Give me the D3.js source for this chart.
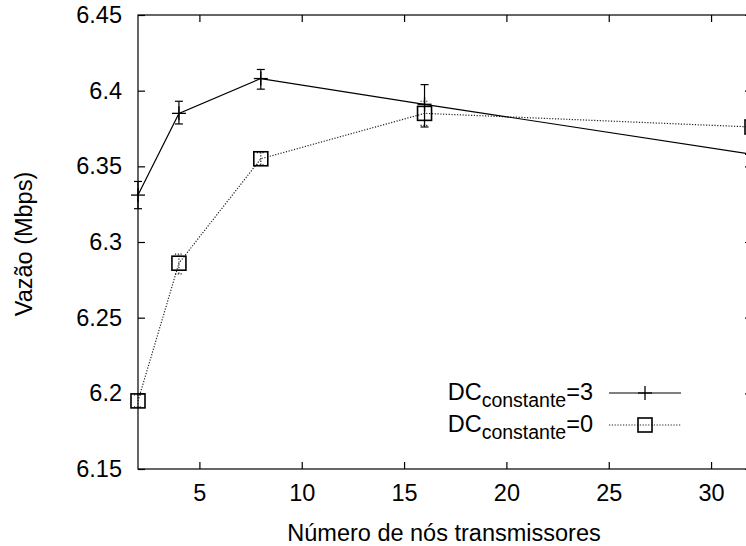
<!DOCTYPE html>
<html>
<head>
<meta charset="utf-8">
<script src="https://cdn.jsdelivr.net/npm/d3@7"></script>
<style>
html,body{margin:0;padding:0;background:#fff;}
svg{display:block;font-family:"Liberation Sans",Arial,Helvetica,sans-serif;}
</style>
</head>
<body>
<svg id="chart" width="746" height="546"></svg>
<script>
// ---- data ----
const xValues = [2, 4, 8, 16, 32];
const dc3Values = [6.331, 6.385, 6.408, 6.391, 6.358];
const dc3Low    = [6.322, 6.378, 6.401, 6.376, 6.353];
const dc3High   = [6.340, 6.393, 6.414, 6.404, 6.363];
const dc0Values = [6.195, 6.286, 6.355, 6.385, 6.376];
const dc0Low    = [6.191, 6.279, 6.351, 6.377, 6.372];
const dc0High   = [6.199, 6.292, 6.359, 6.393, 6.380];
const xTicks = [5, 10, 15, 20, 25, 30];
const yTicks = [6.15, 6.2, 6.25, 6.3, 6.35, 6.4, 6.45];
const seriesNames = ["3", "0"];
const xTitle = "Número de nós transmissores";
const yTitle = "Vazão (Mbps)";

const svg = d3.select("#chart");
const pL = 138, pR = 752, pT = 15, pB = 469;
const x = d3.scaleLinear().domain([2, 32]).range([pL, pR]);
const y = d3.scaleLinear().domain([6.15, 6.45]).range([pB, pT]);
const FS = 23.5;
const tickLen = 7;

// frame
svg.append("rect").attr("x", pL).attr("y", pT)
  .attr("width", pR - pL).attr("height", pB - pT)
  .attr("fill", "none").attr("stroke", "#000").attr("stroke-width", 1.2);

// axes with inward ticks
const gxB = svg.append("g").attr("transform", `translate(0,${pB})`)
  .call(d3.axisBottom(x).tickValues(xTicks).tickSizeInner(-tickLen).tickSizeOuter(0).tickPadding(15).tickFormat(d3.format("d")));
const gxT = svg.append("g").attr("transform", `translate(0,${pT})`)
  .call(d3.axisTop(x).tickValues(xTicks).tickSizeInner(-tickLen).tickSizeOuter(0).tickFormat(""));
const gyL = svg.append("g").attr("transform", `translate(${pL},0)`)
  .call(d3.axisLeft(y).tickValues(yTicks).tickSizeInner(-tickLen).tickSizeOuter(0).tickPadding(16).tickFormat(d => String(+d.toFixed(2))));
const gyR = svg.append("g").attr("transform", `translate(${pR},0)`)
  .call(d3.axisRight(y).tickValues(yTicks).tickSizeInner(-tickLen).tickSizeOuter(0).tickFormat(""));
[gxB, gxT, gyL, gyR].forEach(g => {
  g.select(".domain").remove();
  g.selectAll(".tick line").attr("stroke", "#000").attr("stroke-width", 1.2);
  g.selectAll("text").attr("font-size", FS).attr("font-family", "Liberation Sans, Arial, sans-serif").attr("fill", "#000");
});

// axis titles
svg.append("text").attr("x", 444).attr("y", 541)
  .attr("text-anchor", "middle").attr("font-size", FS).text(xTitle);
svg.append("text").attr("transform", `translate(32,244) rotate(-90)`)
  .attr("text-anchor", "middle").attr("font-size", FS).text(yTitle);

const plot = svg.append("g");
const line = d3.line().x(d => x(d.x)).y(d => y(d.y));
const dc3 = xValues.map((v, i) => ({x: v, y: dc3Values[i], lo: dc3Low[i], hi: dc3High[i]}));
const dc0 = xValues.map((v, i) => ({x: v, y: dc0Values[i], lo: dc0Low[i], hi: dc0High[i]}));

const styles = [
  {data: dc0, color: "#222", dash: "1.2,1.6", marker: "square"},
  {data: dc3, color: "#000", dash: null, marker: "plus"}
];
const capW = 4;
const mk = 7;

function drawMarker(g, cx, cy, type, sw) {
  if (type === "plus") {
    g.append("line").attr("x1", cx - mk).attr("x2", cx + mk).attr("y1", cy).attr("y2", cy)
      .attr("stroke", "#000").attr("stroke-width", sw);
    g.append("line").attr("x1", cx).attr("x2", cx).attr("y1", cy - mk).attr("y2", cy + mk)
      .attr("stroke", "#000").attr("stroke-width", sw);
  } else {
    g.append("rect").attr("x", cx - mk).attr("y", cy - mk).attr("width", 2 * mk).attr("height", 2 * mk)
      .attr("fill", "none").attr("stroke", "#000").attr("stroke-width", 1.6);
  }
}

styles.forEach(s => {
  plot.append("path").datum(s.data).attr("d", line)
    .attr("fill", "none").attr("stroke", s.color).attr("stroke-width", 1.2)
    .attr("stroke-dasharray", s.dash);
  s.data.forEach(d => {
    const g = plot.append("g");
    const cx = x(d.x);
    g.append("line").attr("x1", cx).attr("x2", cx).attr("y1", y(d.lo)).attr("y2", y(d.hi))
      .attr("stroke", s.color).attr("stroke-width", 1.2).attr("stroke-dasharray", s.dash);
    [d.lo, d.hi].forEach(v => {
      g.append("line").attr("x1", cx - capW).attr("x2", cx + capW).attr("y1", y(v)).attr("y2", y(v))
        .attr("stroke", s.color).attr("stroke-width", 1.2).attr("stroke-dasharray", s.dash);
    });
    drawMarker(g, cx, y(d.y), s.marker, 1.3);
  });
});

// legend
const legRows = [
  {name: seriesNames[0], marker: "plus", dash: null, color: "#000", ly: 393},
  {name: seriesNames[1], marker: "square", dash: "1.2,1.6", color: "#222", ly: 425}
];
legRows.forEach(r => {
  const t = svg.append("text").attr("x", 593).attr("y", r.ly + 7).attr("text-anchor", "end").attr("font-size", FS);
  t.append("tspan").text("DC");
  t.append("tspan").attr("dy", 7).attr("font-size", 19.5).text("constante");
  t.append("tspan").attr("dy", -7).text("=" + r.name);
  svg.append("line").attr("x1", 609).attr("x2", 681).attr("y1", r.ly).attr("y2", r.ly)
    .attr("stroke", r.color).attr("stroke-width", 1.2).attr("stroke-dasharray", r.dash);
  drawMarker(svg, 645, r.ly, r.marker, 1.3);
});
</script>
</body>
</html>
